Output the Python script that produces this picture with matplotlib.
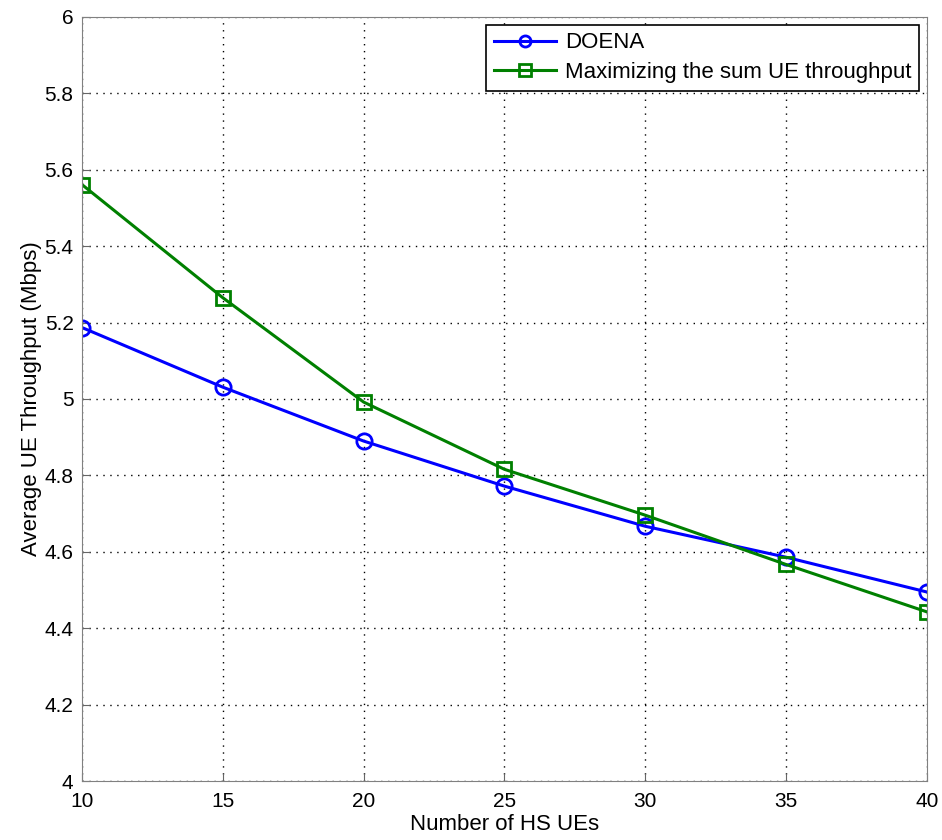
import numpy as np
import matplotlib
matplotlib.use('Agg')
import matplotlib.pyplot as plt

# -- data

num_ues = [10, 15, 20, 25, 30, 35, 40]
doena = [5.187, 5.031, 4.890, 4.772, 4.667, 4.586, 4.495]
max_sum = [5.561, 5.265, 4.992, 4.816, 4.696, 4.567, 4.443]

labels = ['DOENA', 'Maximizing the sum UE throughput']

# -- setup

plt.rcParams['font.family'] = ['Liberation Sans', 'DejaVu Sans']

fig = plt.figure(figsize=(9.42, 8.4), dpi=100)
ax = fig.add_axes([0.087, 0.070, 0.897, 0.910])

ax.plot(num_ues, doena, color=(0, 0, 1), lw=2.2, marker='o', ms=11,
        mfc='none', mew=2, label=labels[0])
ax.plot(num_ues, max_sum, color=(0, 0.5, 0), lw=2.2, marker='s', ms=10,
        mfc='none', mew=2, label=labels[1])

ax.set_xlim(10, 40)
ax.set_ylim(4, 6)
ax.set_xticks(np.arange(10, 41, 5))
ax.set_yticks(np.arange(4, 6.01, 0.2))
ax.set_yticklabels(['4', '4.2', '4.4', '4.6', '4.8', '5', '5.2', '5.4', '5.6', '5.8', '6'])

ax.grid(True, color='k', ls=(0, (1, 4)), lw=1)
ax.tick_params(direction='in', labelsize=15, length=6, color='0.4')
ax.tick_params(axis='x', pad=8)
ax.tick_params(axis='y', pad=6)
for sp in ax.spines.values():
    sp.set_color('0.5')

ax.set_xlabel('Number of HS UEs', fontsize=16, labelpad=2)
ax.set_ylabel('Average UE Throughput (Mbps)', fontsize=16, labelpad=2)

leg = ax.legend(loc='upper right', fontsize=16, fancybox=False, framealpha=1,
                edgecolor='k', borderaxespad=0.35, handlelength=2.8,
                handletextpad=0.4, labelspacing=0.4, borderpad=0.35)
leg.get_frame().set_linewidth(1.2)
for h in leg.legend_handles:
    h.set_markersize(8)

fig.savefig('out.png', dpi=100)
